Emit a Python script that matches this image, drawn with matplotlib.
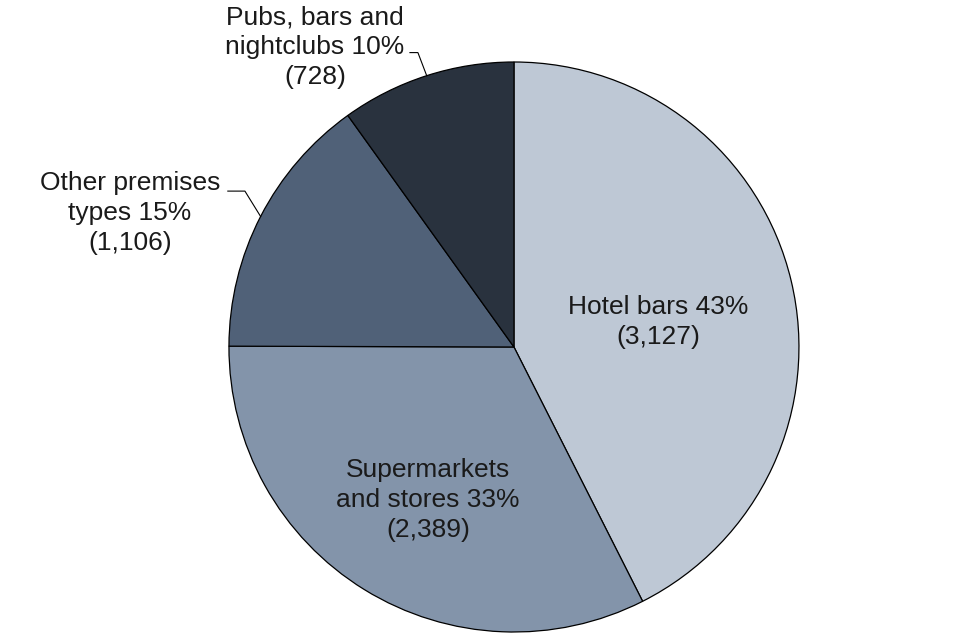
import numpy as np
import matplotlib.pyplot as plt

# premises types, clockwise from 12 o'clock
names = ['Hotel bars', 'Supermarkets\nand stores', 'Other premises\ntypes', 'Pubs, bars and\nnightclubs']
counts = [3127, 2389, 1106, 728]
colors = ['#bec8d5', '#8394aa', '#506178', '#29323e']

plt.rcParams['font.family'] = ['Liberation Sans', 'DejaVu Sans']

fig = plt.figure(figsize=(9.6, 6.4), dpi=100)
ax = fig.add_axes([0.2385, 0.0125, 0.59375, 0.890625])

wedges, _ = ax.pie(counts, colors=colors, startangle=90, counterclock=False,
                   radius=1, wedgeprops=dict(edgecolor='black', linewidth=0.9))
ax.set_xlim(-1, 1)
ax.set_ylim(-1, 1)
ax.set_aspect('equal')

total = sum(counts)
labels = []
for n, c in zip(names, counts):
    labels.append('%s %d%%\n(%s)' % (n, round(c / total * 100), format(c, ',')))

# label placement (data units, radius = 1)
text_pos = [(0.505, 0.088), (-0.302, -0.537), (-1.347, 0.47), (-0.698, 1.053)]
elbows = [None, None, ((-0.944, 0.547), (-1.004, 0.547)), ((-0.337, 1.033), (-0.365, 1.033))]

for w, lab, pos, elb in zip(wedges, labels, text_pos, elbows):
    ax.text(pos[0], pos[1], lab, ha='center', va='center', fontsize=19,
            color='#1a1a1a', linespacing=1.3, clip_on=False)
    if elb is not None:
        mid = np.deg2rad((w.theta1 + w.theta2) / 2)
        xs = [np.cos(mid), elb[0][0], elb[1][0]]
        ys = [np.sin(mid), elb[0][1], elb[1][1]]
        ax.plot(xs, ys, color='black', linewidth=0.8, clip_on=False)

fig.savefig('out.png', dpi=100)
